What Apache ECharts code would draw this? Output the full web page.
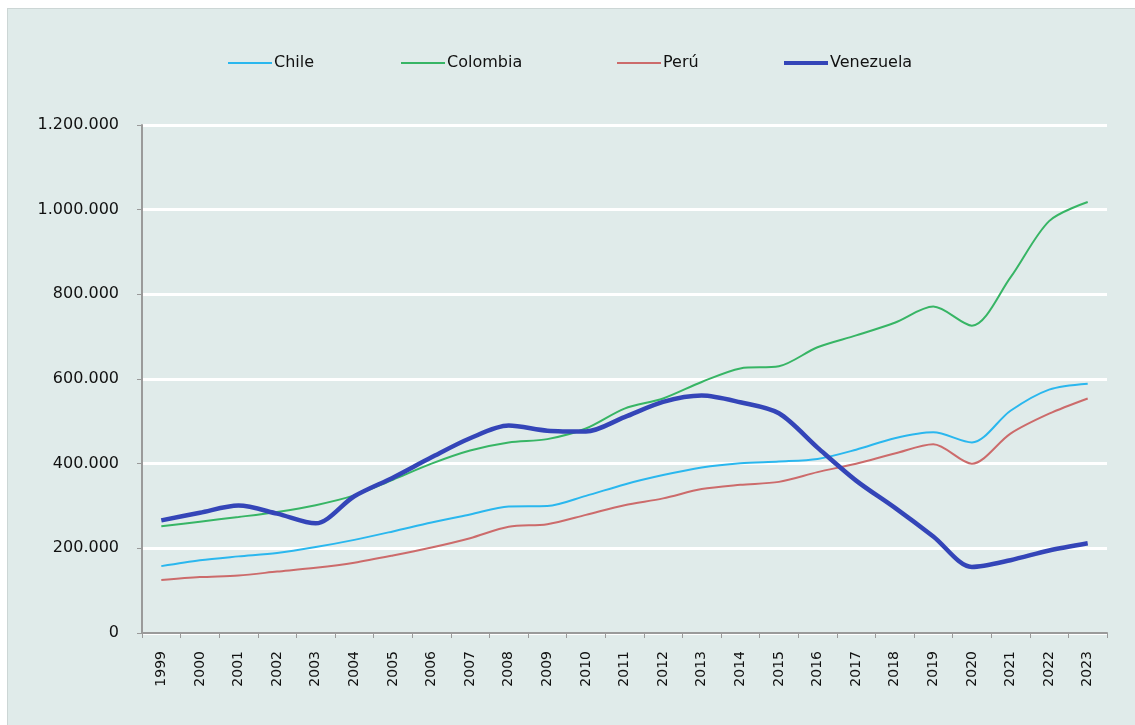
<!DOCTYPE html>
<html>
<head>
<meta charset="utf-8">
<script src="https://cdn.jsdelivr.net/npm/echarts@6/dist/echarts.min.js"></script>
<style>
  html, body { margin: 0; padding: 0; background: #ffffff; }
  #chart {
    position: absolute;
    left: 7px;
    top: 8px;
    width: 1128px;
    height: 717px;
    border-top: 1px solid #ccd6d5;
    border-left: 1px solid #ccd6d5;
    box-sizing: border-box;
  }
</style>
</head>
<body>
<div id="chart"></div>
<script>
const years = ["1999", "2000", "2001", "2002", "2003", "2004", "2005", "2006", "2007", "2008",
  "2009", "2010", "2011", "2012", "2013", "2014", "2015", "2016", "2017", "2018",
  "2019", "2020", "2021", "2022", "2023"];

const chile = [158000, 172000, 181000, 189000, 203000, 220000, 240000, 261000, 280000, 299000,
  300000, 324000, 351000, 373000, 391000, 401000, 405000, 411000, 433000, 460000,
  474000, 450000, 525000, 575000, 589000];
const colombia = [252000, 263000, 274000, 286000, 302000, 325000, 362000, 400000, 431000, 450000,
  458000, 483000, 530000, 554000, 593000, 625000, 630000, 675000, 703000, 733000,
  771000, 726000, 840000, 973000, 1018000];
const peru = [125000, 132000, 136000, 145000, 154000, 166000, 183000, 202000, 224000, 251000,
  257000, 279000, 302000, 318000, 340000, 350000, 357000, 380000, 400000, 424000,
  446000, 400000, 471000, 518000, 554000];
const venezuela = [266000, 284000, 301000, 282000, 259000, 323000, 367000, 415000, 460000, 490000,
  478000, 476000, 510000, 546000, 561000, 545000, 519000, 438000, 360000, 296000,
  228000, 156000, 172000, 195000, 212000];

const yTicks = [0, 200000, 400000, 600000, 800000, 1000000, 1200000];

function fmt(v) {
  return String(v).replace(/\B(?=(\d{3})+(?!\d))/g, ".");
}

const chart = echarts.init(document.getElementById("chart"));
const font = "DejaVu Sans, Verdana, sans-serif";

// legend icons: a plain line, thin or thick (tiny slivers keep the box 44x10)
const thinIcon = "path://M0,0h44v0.01h-44z M0,4h44v2h-44z M0,9.99h44v0.01h-44z";
const thickIcon = "path://M0,0h44v0.01h-44z M0,3h44v4h-44z M0,9.99h44v0.01h-44z";

function legendAt(name, left, icon) {
  return {
    top: 41,
    left: left,
    itemWidth: 44,
    itemHeight: 10,
    itemGap: 0,
    icon: icon,
    textStyle: { fontFamily: font, fontSize: 16, color: "#111", padding: [0, 0, 0, -3] },
    data: [name]
  };
}

chart.setOption({
  backgroundColor: "#e0ebea",
  animation: false,
  legend: [
    legendAt("Chile", 215, thinIcon),
    legendAt("Colombia", 388, thinIcon),
    legendAt("Perú", 604, thinIcon),
    legendAt("Venezuela", 771, thickIcon)
  ],
  grid: { left: 134, right: 28, top: 116, bottom: 92 },
  xAxis: {
    type: "category",
    data: years,
    boundaryGap: true,
    axisLine: { lineStyle: { color: "#9a9a9a", width: 2 } },
    axisTick: { show: true, length: 5, lineStyle: { color: "#9a9a9a" } },
    axisLabel: {
      rotate: 90,
      interval: 0,
      margin: 18,
      fontFamily: font,
      fontSize: 14,
      color: "#111"
    }
  },
  yAxis: {
    type: "value",
    min: yTicks[0],
    max: yTicks[yTicks.length - 1],
    interval: 200000,
    axisLine: { show: true, lineStyle: { color: "#9a9a9a", width: 2 } },
    axisTick: { show: true, length: 5, lineStyle: { color: "#9a9a9a" } },
    axisLabel: {
      margin: 23,
      fontFamily: font,
      fontSize: 16,
      color: "#111",
      formatter: fmt
    },
    splitLine: { lineStyle: { color: "#ffffff", width: 3 } }
  },
  series: [
    { name: "Chile", type: "line", data: chile, smooth: 0.3, symbol: "none",
      color: "#2ab7ee", lineStyle: { width: 2 } },
    { name: "Colombia", type: "line", data: colombia, smooth: 0.3, symbol: "none",
      color: "#37b565", lineStyle: { width: 2 } },
    { name: "Perú", type: "line", data: peru, smooth: 0.3, symbol: "none",
      color: "#cc6b6b", lineStyle: { width: 2 } },
    { name: "Venezuela", type: "line", data: venezuela, smooth: 0.3, symbol: "none",
      color: "#3445b8", lineStyle: { width: 4.5 } }
  ]
});
</script>
</body>
</html>
